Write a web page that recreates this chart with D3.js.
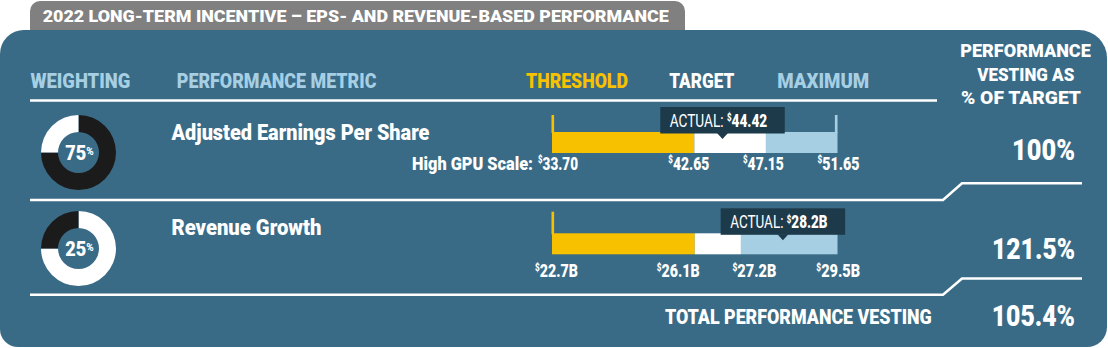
<!DOCTYPE html>
<html><head><meta charset="utf-8">
<script src="https://cdn.jsdelivr.net/npm/d3@7"></script>
<style>html,body{margin:0;padding:0;background:#fff;} svg{display:block;}</style>
</head><body>
<svg id="chart" width="1108" height="348"></svg>
<script>
// ---------- DATA ----------
const title = "2022 LONG-TERM INCENTIVE – EPS- AND REVENUE-BASED PERFORMANCE";
const columnHeaders = ["WEIGHTING", "PERFORMANCE METRIC", "THRESHOLD", "TARGET", "MAXIMUM"];
const vestingHeader = ["PERFORMANCE", "VESTING AS", "% OF TARGET"];
const metrics = ["Adjusted Earnings Per Share", "Revenue Growth"];
const weightings = [75, 25];
const scaleNotes = ["High GPU Scale:", ""];
const epsPoints = [33.70, 42.65, 47.15, 51.65];
const revenuePoints = [22.7, 26.1, 27.2, 29.5];
const actuals = [44.42, 28.2];
const vestingPct = [100, 121.5];
const totalLabel = "TOTAL PERFORMANCE VESTING";
const totalVesting = 105.4;

const rowPoints = [epsPoints, revenuePoints];
const rowFormats = [d3.format(".2f"), v => d3.format(".1f")(v) + "B"];

// ---------- STYLE / LAYOUT ----------
const FONT = "Roboto, 'Liberation Sans', Arial, sans-serif";
const BOLD = 900;
const C = {panel:"#3a6b86", tab:"#808080", yellow:"#f8c100", blue:"#a6cfe4",
           white:"#ffffff", dark:"#1d3a4b", black:"#1b1b1b"};
const segColors = [C.yellow, C.white, C.blue];
const headerLayout = [
  {x:30.4, w:100, fill:C.blue}, {x:176.8, w:200, fill:C.blue},
  {x:526, w:102, fill:C.yellow}, {x:669.3, w:65, fill:C.white}, {x:777.3, w:92, fill:C.blue}];
const rowLayout = [
  {cy:152.5, titleY:139.5, titleW:259, tickTop:115, barTop:132, labelY:169.5,
   labelDx:[6,-5.5,-2.5,1], labelW:[40,41,41,42], noteEnd:533, noteW:121, vestY:160, vestW:63},
  {cy:248.5, titleY:234.5, titleW:150, tickTop:211.7, barTop:233.3, labelY:277.3,
   labelDx:[4.5,-16.5,13.5,0.7], labelW:[43,43,44,44], vestY:259, vestW:83}
];
const barRange = [552, 837.5], barH = 21;

const svg = d3.select("#chart");

function addText(parent, o) {
  const g = parent.append("g");
  const t = g.append("text")
    .attr("font-family", FONT).attr("font-size", o.size)
    .attr("font-weight", o.weight || BOLD).attr("fill", o.fill || "#fff")
    .attr("text-anchor", o.anchor || "start");
  const parts = typeof o.text === "string" ? [{t:o.text}] : o.text;
  let lift = 0;
  parts.forEach(p => {
    const s = t.append("tspan").text(p.t);
    const want = p.lift ? p.lift * o.size : 0;
    if (want !== lift) { s.attr("dy", lift - want); lift = want; }
    if (p.scale) s.attr("font-size", o.size * p.scale);
    if (p.weight) s.attr("font-weight", p.weight);
  });
  let sx = 1;
  if (o.w) { const bw = t.node().getBBox().width; if (bw > 0) sx = o.w / bw; }
  g.attr("transform", `translate(${o.x},${o.y}) scale(${sx},1)`);
  return g;
}
const dollar = {t:"$", scale:0.58, lift:0.33};

// ---------- TAB + PANEL ----------
svg.append("rect").attr("x", 30).attr("y", 1).attr("width", 655).attr("height", 45)
  .attr("rx", 10).attr("fill", C.tab);
addText(svg, {x:42.7, y:21.5, size:17, text:title, w:627});

function panelPath(x0, y0, x1, y1, tl, tr, br, bl) {
  return `M${x0+tl},${y0} H${x1-tr} A${tr},${tr} 0 0 1 ${x1},${y0+tr} V${y1-br}
    A${br},${br} 0 0 1 ${x1-br},${y1} H${x0+bl} A${bl},${bl} 0 0 1 ${x0},${y1-bl}
    V${y0+tl} A${tl},${tl} 0 0 1 ${x0+tl},${y0} Z`;
}
svg.append("path").attr("d", panelPath(0, 30, 1107, 347, 24, 28, 20, 18)).attr("fill", C.panel);

// ---------- HEADERS ----------
columnHeaders.forEach((h, i) => addText(svg, {x:headerLayout[i].x, y:88, size:19.5,
  text:h, fill:headerLayout[i].fill, w:headerLayout[i].w}));
const vhLayout = [{cx:1025.5, y:56.5, w:131}, {cx:1025.8, y:80.5, w:98}, {cx:1021, y:104, w:120}];
vestingHeader.forEach((h, i) => addText(svg, {x:vhLayout[i].cx, y:vhLayout[i].y, size:19,
  anchor:"middle", text:h, w:vhLayout[i].w}));

// ---------- RULES ----------
const rule = d => svg.append("path").attr("d", d).attr("fill", "none")
  .attr("stroke", "#fff").attr("stroke-width", 2.5);
rule("M30,100.5 H937");
rule("M30,200 H943 L962,183.3 H1082");
rule("M30,294.7 H943 L962,278.5 H1082");

// ---------- ROWS ----------
const pie = d3.pie().sort(null).value(d => d)(weightings);
const arc = d3.arc().innerRadius(20.5).outerRadius(37.5);

metrics.forEach((m, r) => {
  const L = rowLayout[r];
  const pts = rowPoints[r], fmt = rowFormats[r];
  const x = d3.scaleLinear().domain([pts[0], pts[pts.length-1]]).range(barRange);

  // donut
  const dg = svg.append("g").attr("transform", `translate(78.5,${L.cy})`);
  dg.selectAll("path").data(pie).join("path").attr("d", arc)
    .attr("fill", (d, i) => i === r ? C.black : C.white);
  addText(svg, {x:79.5, y:L.cy + 7.5, size:19.5, anchor:"middle",
    text:[{t:String(weightings[r])}, {t:"%", scale:0.55, lift:0.24}], w:28.5});

  // metric name
  addText(svg, {x:171.5, y:L.titleY, size:22, text:m, w:L.titleW});

  // bar segments
  const segs = d3.pairs(pts);
  svg.append("g").selectAll("rect").data(segs).join("rect")
    .attr("x", d => x(d[0])).attr("width", d => x(d[1]) - x(d[0]))
    .attr("y", L.barTop).attr("height", barH)
    .attr("fill", (d, i) => segColors[i]);
  // end ticks
  svg.append("rect").attr("x", x(pts[0]) - 0.5).attr("width", 2.6)
    .attr("y", L.tickTop).attr("height", L.barTop - L.tickTop + 1).attr("fill", C.yellow);
  svg.append("rect").attr("x", x(pts[pts.length-1]) - 2.6).attr("width", 2.6)
    .attr("y", L.tickTop).attr("height", L.barTop - L.tickTop + 1).attr("fill", C.blue);

  // value labels
  pts.forEach((v, i) => addText(svg, {x:x(v) + L.labelDx[i], y:L.labelY, size:18.5,
    anchor:"middle", text:[dollar, {t:fmt(v)}], w:L.labelW[i]}));
  if (scaleNotes[r]) addText(svg, {x:L.noteEnd, y:L.labelY, size:18.5, anchor:"end",
    text:scaleNotes[r], w:L.noteW});

  // actual tooltip
  const ax = x(actuals[r]);
  const bw = 124.5, bh = 26.5, bBottom = L.barTop + 1.5, bTop = bBottom - bh;
  svg.append("rect").attr("x", ax - bw/2).attr("y", bTop).attr("width", bw).attr("height", bh)
    .attr("fill", C.dark);
  svg.append("path").attr("d", `M${ax-5.5},${bBottom-0.5} L${ax+5.5},${bBottom-0.5} L${ax},${bBottom+5.5} Z`)
    .attr("fill", C.dark);
  addText(svg, {x:ax - bw/2 + 9.5, y:bTop + 20, size:17.5,
    text:[{t:"ACTUAL: ", weight:400}, dollar, {t:fmt(actuals[r]), weight:BOLD}], w:97.5});

  // vesting %
  addText(svg, {x:1075, y:L.vestY, size:30, anchor:"end", text:vestingPct[r] + "%", w:L.vestW});
});

// ---------- TOTAL ----------
addText(svg, {x:665, y:323.5, size:20.5, text:totalLabel, w:267});
addText(svg, {x:1075, y:326, size:30, anchor:"end", text:totalVesting + "%", w:83.3});
</script>
</body></html>
